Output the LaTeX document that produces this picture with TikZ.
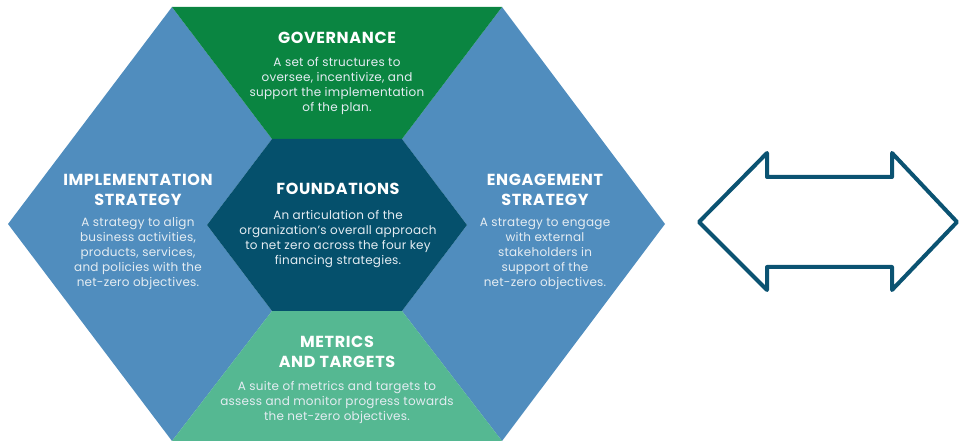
\documentclass[tikz,border=0pt]{standalone}
\usepackage{fontspec}
\setmainfont{Poppins}
\newfontfamily\ttlfont[LetterSpace=4]{Poppins}
\newfontfamily\bdyfont[LetterSpace=2]{Poppins}
\definecolor{hexblue}{HTML}{508DBE}
\definecolor{govgreen}{HTML}{0A8541}
\definecolor{foundteal}{HTML}{05506C}
\definecolor{metgreen}{HTML}{55B892}
\definecolor{arrowteal}{HTML}{0B5372}
\definecolor{bodytxt}{HTML}{E4ECF2}
\tikzset{
  ttl/.style={text=white, font=\ttlfont\fontsize{16}{20}\selectfont\bfseries, align=center, inner sep=0pt},
  bdy/.style={text=bodytxt, font=\bdyfont\fontsize{12}{15}\selectfont, align=center, inner sep=0pt},
  arrowshape/.style={draw=arrowteal, line width=4pt, line join=round, fill=none}
}
\begin{document}
\begin{tikzpicture}[x=1pt,y=-1pt]
\useasboundingbox (0,0) rectangle (959,443);
% outer hexagon vertices
\coordinate (O1) at (172,7);
\coordinate (O2) at (502,7);
\coordinate (O3) at (665,224);
\coordinate (O4) at (502,441);
\coordinate (O5) at (172,441);
\coordinate (O6) at (8,224);
% inner hexagon vertices
\coordinate (I1) at (272,139);
\coordinate (I2) at (402,139);
\coordinate (I3) at (467,225);
\coordinate (I4) at (402,311);
\coordinate (I5) at (272,311);
\coordinate (I6) at (207,225);
% regions
\fill[hexblue] (O1) -- (I1) -- (I6) -- (I5) -- (O5) -- (O6) -- cycle;
\fill[hexblue] (O2) -- (O3) -- (O4) -- (I4) -- (I3) -- (I2) -- cycle;
\fill[govgreen] (O1) -- (O2) -- (I2) -- (I1) -- cycle;
\fill[metgreen] (I5) -- (I4) -- (O4) -- (O5) -- cycle;
\fill[foundteal] (I1) -- (I2) -- (I3) -- (I4) -- (I5) -- (I6) -- cycle;
% texts
\node[ttl] (govT) at (337,38) {GOVERNANCE};
\node[bdy] (govB) at (337,85.5) {A set of structures to\\oversee, incentivize, and\\support the implementation\\of the plan.};
\node[ttl] (impT) at (138,190) {IMPLEMENTATION\\STRATEGY};
\node[bdy] (impB) at (138,253) {A strategy to align\\business activities,\\products, services,\\and policies with the\\net-zero objectives.};
\node[ttl] (fouT) at (338,189) {FOUNDATIONS};
\node[bdy] (fouB) at (338,239.5) {An articulation of the\\organization’s overall approach\\to net zero across the four key\\financing strategies.};
\node[ttl] (engT) at (545,190) {ENGAGEMENT\\STRATEGY};
\node[bdy] (engB) at (545,253.5) {A strategy to engage\\with external\\stakeholders in\\support of the\\net-zero objectives.};
\node[ttl] (metT) at (337,352) {METRICS\\AND TARGETS};
\node[bdy] (metB) at (337,402) {A suite of metrics and targets to\\assess and monitor progress towards\\the net-zero objectives.};
% double arrow
\coordinate (A1) at (699,222);
\coordinate (A2) at (767,153);
\coordinate (A3) at (767,177);
\coordinate (A4) at (892,177);
\coordinate (A5) at (892,153);
\coordinate (A6) at (957,222);
\coordinate (A7) at (892,290);
\coordinate (A8) at (892,267);
\coordinate (A9) at (767,267);
\coordinate (A10) at (767,290);
\draw[arrowshape] (A1) -- (A2) -- (A3) -- (A4) -- (A5) -- (A6) -- (A7) -- (A8) -- (A9) -- (A10) -- cycle;
\end{tikzpicture}
\end{document}
